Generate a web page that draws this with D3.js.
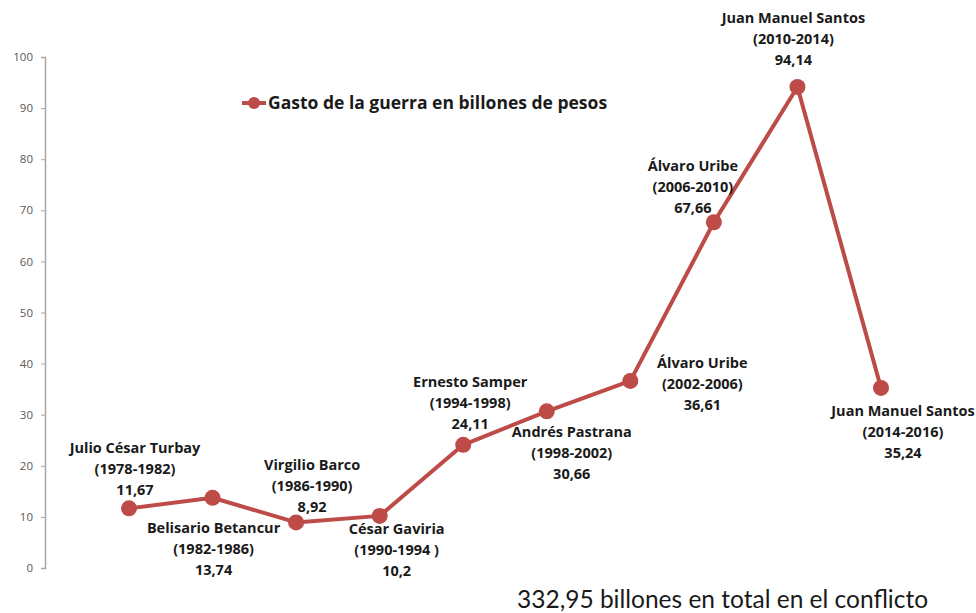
<!DOCTYPE html>
<html lang="es">
<head>
<meta charset="UTF-8">
<title>Gasto de la guerra en billones de pesos</title>
<script src="https://d3js.org/d3.v7.min.js"></script>
<style>
  body { margin: 0; background: #fff; }
  .tick text { font-family: "Open Sans", sans-serif; font-size: 11.5px; fill: #595959; }
  .lbl { font-family: "Open Sans", sans-serif; font-weight: bold; font-size: 14.5px; fill: #1a1a1a; }
</style>
</head>
<body>
<div id="chart"></div>
<script>
// presidentes y periodos
const presidents = ["Julio César Turbay", "Belisario Betancur", "Virgilio Barco", "César Gaviria",
  "Ernesto Samper", "Andrés Pastrana", "Álvaro Uribe", "Álvaro Uribe", "Juan Manuel Santos", "Juan Manuel Santos"];
const periods = ["(1978-1982)", "(1982-1986)", "(1986-1990)", "(1990-1994 )", "(1994-1998)",
  "(1998-2002)", "(2002-2006)", "(2006-2010)", "(2010-2014)", "(2014-2016)"];
// gasto en billones de pesos
const values = [11.67, 13.74, 8.92, 10.2, 24.11, 30.66, 36.61, 67.66, 94.14, 35.24];
const valueLabels = ["11,67", "13,74", "8,92", "10,2", "24,11", "30,66", "36,61", "67,66", "94,14", "35,24"];
const yTicks = [0, 10, 20, 30, 40, 50, 60, 70, 80, 90, 100];

// label placement relative to the point (dx, dy of first line baseline)
const labelPos = [[6, -55], [1, 35], [16, -52], [17, 18], [7, -58], [25, 26], [72, -13], [-21, -51], [-4, -64], [22, 28]];

const W = 976, H = 613;
const svg = d3.select("#chart").append("svg").attr("width", W).attr("height", H);

const x = d3.scalePoint().domain(d3.range(values.length)).range([129, 881]);
const y = d3.scaleLinear().domain([0, 100]).range([568, 57]);

// y axis
const yAxis = svg.append("g")
  .attr("transform", "translate(45,0)")
  .call(d3.axisLeft(y).tickValues(yTicks).tickSize(4).tickPadding(8));
yAxis.select(".domain").attr("stroke", "#a6a6a6").attr("stroke-width", 1.5);
yAxis.selectAll(".tick line").attr("stroke", "#a6a6a6");

const red = "#bd4b48";

// line
svg.append("path")
  .datum(values)
  .attr("fill", "none")
  .attr("stroke", red)
  .attr("stroke-width", 4)
  .attr("stroke-linejoin", "round")
  .attr("d", d3.line().x((d, i) => x(i)).y(d => y(d)));

// markers
svg.selectAll(".dot")
  .data(values)
  .enter().append("circle")
  .attr("cx", (d, i) => x(i))
  .attr("cy", d => y(d))
  .attr("r", 8)
  .attr("fill", red);

// data labels
values.forEach((v, i) => {
  const [dx, dy] = labelPos[i];
  const t = svg.append("text")
    .attr("class", "lbl")
    .attr("text-anchor", "middle")
    .attr("x", x(i) + dx)
    .attr("y", y(v) + dy);
  [presidents[i], periods[i], valueLabels[i]].forEach((s, k) => {
    t.append("tspan").attr("x", x(i) + dx).attr("dy", k === 0 ? 0 : 21).text(s);
  });
});

// legend
svg.append("line").attr("x1", 242).attr("x2", 266).attr("y1", 103).attr("y2", 103)
  .attr("stroke", red).attr("stroke-width", 4);
svg.append("circle").attr("cx", 254).attr("cy", 103).attr("r", 6).attr("fill", red);
svg.append("text").attr("class", "lbl").attr("x", 268).attr("y", 109)
  .style("font-size", "17.5px")
  .text("Gasto de la guerra en billones de pesos");

// total
svg.append("text")
  .attr("x", 517).attr("y", 608)
  .style("font-family", "Lato, 'Open Sans', sans-serif")
  .style("font-size", "24.5px")
  .attr("fill", "#1a1a1a")
  .text("332,95 billones en total en el conflicto");
</script>
</body>
</html>
